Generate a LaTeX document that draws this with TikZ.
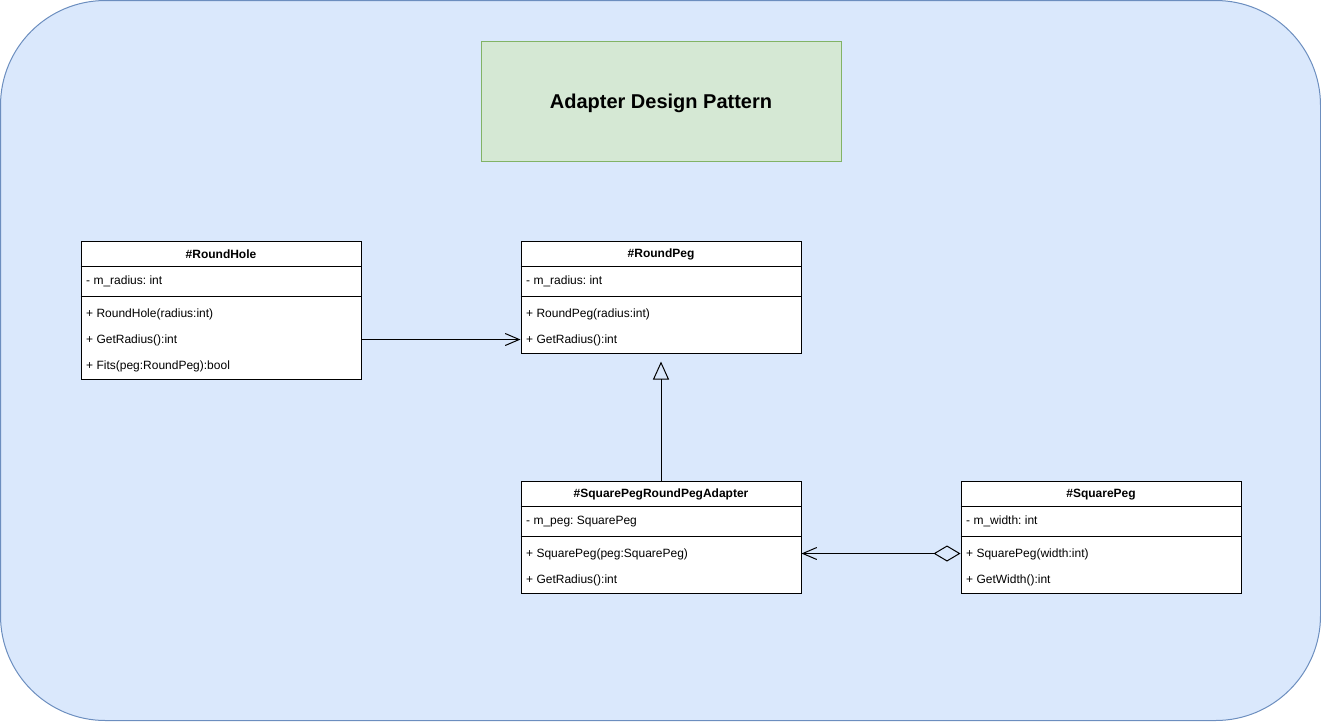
\documentclass[tikz,border=0pt]{standalone}
\usepackage{fontspec}
\setmainfont{Liberation Sans}
\usetikzlibrary{arrows.meta,positioning}
\definecolor{bgfill}{HTML}{DAE8FC}
\definecolor{bgline}{HTML}{6C8EBF}
\definecolor{titlefill}{HTML}{D5E8D4}
\definecolor{titleline}{HTML}{82B366}
\tikzset{
  classbox/.style={rectangle, draw, fill=white, line width=1pt,
    minimum width=280pt, anchor=north west, inner sep=0pt},
  header/.style={font=\bfseries\fontsize{12}{14}\selectfont, inner sep=0pt},
  member/.style={font=\fontsize{12}{14}\selectfont, anchor=west, inner sep=0pt},
  assoc/.style={draw, line width=1pt, -{Straight Barb[length=14pt,width=12pt]}},
  inherit/.style={draw, line width=1pt, -{Triangle[open,length=18pt,width=16pt]}},
  aggr/.style={draw, line width=1pt,
    {Diamond[open,length=27pt,width=16pt]}-{Straight Barb[length=14pt,width=12pt]}}
}

\begin{document}
\frenchspacing
\begin{tikzpicture}[x=1pt, y=-1pt]
    \useasboundingbox (0,0) rectangle (1321,721);
    % Background and title
    \draw[fill=bgfill, draw=bgline, line width=1pt, rounded corners=105pt]
        (0.5,0.5) rectangle (1320.5,720.5);
    \node[rectangle, draw=titleline, fill=titlefill, line width=1pt,
        minimum width=360pt, minimum height=120pt, anchor=north west,
        text height=18.5pt, text depth=4pt, inner ysep=0pt,
        font=\bfseries\fontsize{20}{24}\selectfont] (title) at (480.5,40.5)
        {Adapter Design Pattern};
    % Place class boxes
    \node [classbox, minimum height=138pt] (hole) at (80.5,240.5) {};
    \node [classbox, minimum height=112pt] (peg) at (520.5,240.5) {};
    \node [classbox, minimum height=112pt] (adapt) at (520.5,480.5) {};
    \node [classbox, minimum height=112pt] (square) at (960.5,480.5) {};
    % Headers and separators
    \foreach \cls/\name in {hole/RoundHole, peg/RoundPeg,
        adapt/SquarePegRoundPegAdapter, square/SquarePeg} {
        \node [header] (\cls T) at ([yshift=-14pt]\cls.north) {\#\name};
        \draw [line width=1pt] ([yshift=-26pt]\cls.north west) -- ([yshift=-26pt]\cls.north east);
        \draw [line width=1pt] ([yshift=-56pt]\cls.north west) -- ([yshift=-56pt]\cls.north east);
    }
    % Members
    \node [member] (holeA) at ([xshift=5.5pt,yshift=-41pt]hole.north west) {- m\_radius: int};
    \node [member] (holeM1) at ([xshift=5.5pt,yshift=-74pt]hole.north west) {+ RoundHole(radius:int)};
    \node [member] (holeM2) at ([xshift=5.5pt,yshift=-100pt]hole.north west) {+ GetRadius():int};
    \node [member] (holeM3) at ([xshift=5.5pt,yshift=-126pt]hole.north west) {+ Fits(peg:RoundPeg):bool};
    \node [member] (pegA) at ([xshift=5.5pt,yshift=-41pt]peg.north west) {- m\_radius: int};
    \node [member] (pegM1) at ([xshift=5.5pt,yshift=-74pt]peg.north west) {+ RoundPeg(radius:int)};
    \node [member] (pegM2) at ([xshift=5.5pt,yshift=-100pt]peg.north west) {+ GetRadius():int};
    \node [member] (adaptA) at ([xshift=5.5pt,yshift=-41pt]adapt.north west) {- m\_peg: SquarePeg};
    \node [member] (adaptM1) at ([xshift=5.5pt,yshift=-74pt]adapt.north west) {+ SquarePeg(peg:SquarePeg)};
    \node [member] (adaptM2) at ([xshift=5.5pt,yshift=-100pt]adapt.north west) {+ GetRadius():int};
    \node [member] (squareA) at ([xshift=5.5pt,yshift=-41pt]square.north west) {- m\_width: int};
    \node [member] (squareM1) at ([xshift=5.5pt,yshift=-74pt]square.north west) {+ SquarePeg(width:int)};
    \node [member] (squareM2) at ([xshift=5.5pt,yshift=-100pt]square.north west) {+ GetWidth():int};
    % Draw edges
    \path [assoc] ([yshift=-99pt]hole.north east) -- ([yshift=-99pt]peg.north west);
    \path [inherit] (adapt.north) -- ([yshift=-8pt]peg.south);
    \path [aggr] ([yshift=-73pt]square.north west) -- ([yshift=-73pt]adapt.north east);
\end{tikzpicture}
\end{document}
